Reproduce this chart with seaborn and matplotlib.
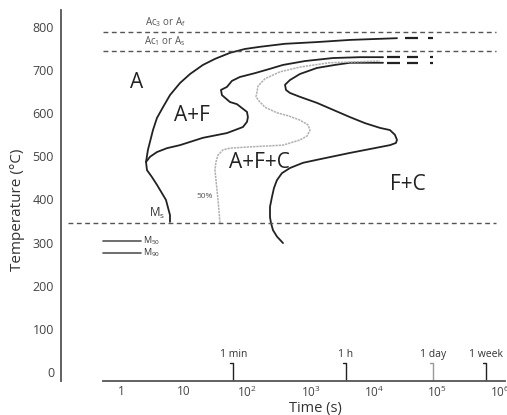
"""TTT diagram: austenite decomposition into ferrite + carbide."""

import matplotlib
matplotlib.use("Agg")
import matplotlib.pyplot as plt
import seaborn as sns

# ---- data (time in s, temperature in degC) ----
start_t = [5.96, 5.96, 5.15, 3.71, 3.09, 2.58, 2.49, 2.67, 3.21, 3.71, 4.62, 5.96, 8.58,
           12.4, 19.8, 30.7, 53, 91.6, 158, 394, 1260, 4200, 23300]
start_T = [348, 364, 399, 434, 452, 468, 487, 515, 561, 589, 614, 642, 670,
           691, 712, 726, 740, 749, 754, 761, 765, 770, 774]

ferrite_t = [2.49, 2.88, 3.71, 5.35, 8.58, 19.8, 47.5, 85, 98.6, 102, 98.6, 68.4, 53,
             39.6, 38.2, 47.5, 57, 76, 132, 228, 366, 815, 2260, 6050, 14000]
ferrite_T = [487, 499, 510, 519, 526, 543, 554, 568, 580, 591, 603, 621, 626,
             642, 654, 661, 675, 684, 693, 703, 712, 721, 728, 730, 730]

half_t = [36.9, 34.3, 30.7, 31.8, 34.3, 41.1, 53, 110, 366, 679, 877, 979, 910, 679,
          444, 294, 190, 158, 137, 142, 147, 190, 328, 679, 1970, 12530]
half_T = [346, 399, 468, 487, 503, 515, 519, 522, 526, 538, 547, 561, 573, 584,
          594, 601, 614, 626, 638, 649, 663, 680, 696, 707, 717, 721]

finish_t = [366, 294, 254, 236, 228, 228, 245, 264, 294, 352, 472, 758, 1262, 4200, 8710,
            18000, 22400, 23300, 21600, 18000, 12530, 7260, 4200, 2260, 1262, 679, 472,
            408, 394, 472, 679, 1262, 2430, 4200, 14000]
finish_T = [299, 314, 329, 346, 359, 383, 406, 427, 445, 461, 473, 485, 492, 508, 517,
            526, 531, 538, 550, 561, 566, 577, 591, 608, 624, 638, 647,
            654, 666, 677, 691, 705, 712, 717, 717]

# broken continuation of the curves beyond the measured range
ext_T = [774, 730, 717]
ext_t0 = [[31200, 72100], [16200, 33500, 77500], [16200, 33500, 77500]]
ext_t1 = [[50000, 86500], [26000, 50000, 86500], [26000, 50000, 86500]]

crit_T = [788, 744, 346]          # Ac3, Ac1, Ms
crit_x0 = [0.52, 0.52, 0.146]
crit_labels = [r"Ac$_3$ or A$_\mathrm{f}$", r"Ac$_1$ or A$_\mathrm{s}$", r"M$_\mathrm{s}$"]

mart_T = [304, 276]
mart_labels = [r"M$_{50}$", r"M$_{90}$"]

marker_t = [60, 3600, 86400, 604800]
marker_labels = ["1 min", "1 h", "1 day", "1 week"]

regions = ["A", "A+F", "A+F+C", "F+C"]
region_t = [1.79, 13.3, 153, 34800]
region_T = [672, 594, 485, 434]

yticks = list(range(0, 900, 100))
xticks = [1, 10, 100, 1e3, 1e4, 1e5, 1e6]
xtick_labels = ["1", "10", "10$^2$", "10$^3$", "10$^4$", "10$^5$", "10$^6$"]

sns.set_style("white")
plt.rcParams["font.family"] = ["Open Sans", "DejaVu Sans"]
plt.rcParams["mathtext.fontset"] = "custom"
plt.rcParams["mathtext.rm"] = "Open Sans"
plt.rcParams["mathtext.it"] = "Open Sans"

ink = "#222222"
grey = "#555555"

fig = plt.figure(figsize=(5.07, 4.15), dpi=100)
ax = fig.add_axes([61 / 507, 34 / 415, 446 / 507, 373 / 415])
ax.set_xscale("log")

for t, T in [(start_t, start_T), (ferrite_t, ferrite_T), (finish_t, finish_T)]:
    sns.lineplot(x=t, y=T, sort=False, estimator=None, color=ink, linewidth=1.3, ax=ax,
                 solid_joinstyle="round", solid_capstyle="round")
sns.lineplot(x=half_t, y=half_T, sort=False, estimator=None, color="#b0b0b0",
             linewidth=1.1, linestyle=(0, (1.5, 0.6)), ax=ax)

for T, t0s, t1s in zip(ext_T, ext_t0, ext_t1):
    for a, b in zip(t0s, t1s):
        ax.plot([a, b], [T, T], color=ink, linewidth=1.6, solid_capstyle="butt")

for T, x0 in zip(crit_T, crit_x0):
    ax.plot([x0, 8.5e5], [T, T], color=grey, linewidth=1.0, linestyle=(0, (3.5, 2.5)))
ax.text(5.0, 796, crit_labels[0], fontsize=7, color=grey, ha="center", va="bottom")
ax.text(4.9, 752, crit_labels[1], fontsize=7, color=grey, ha="center", va="bottom")
ax.text(3.7, 350, crit_labels[2], fontsize=8.5, color="#333333", ha="center", va="bottom")

for T, lab in zip(mart_T, mart_labels):
    ax.plot([0.52, 2.05], [T, T], color=grey, linewidth=1.2)
    ax.text(2.2, T, lab, fontsize=6.5, color="#333333", ha="left", va="center")

for t, lab in zip(marker_t, marker_labels):
    c = "#999999" if lab == "1 day" else ink
    ax.plot([t * 0.89, t, t], [21, 21, -21], color=c, linewidth=1.0)
    ax.text(t, 28, lab, fontsize=7.5, color="#333333", ha="center", va="bottom")

for lab, t, T in zip(regions, region_t, region_T):
    ax.text(t, T, lab, fontsize=15, color=ink, ha="center", va="center")
ax.text(21.3, 406, "50%", fontsize=6, color=grey, ha="center", va="center")

ax.set_xlim(10 ** -0.949, 10 ** 6.108)
ax.set_ylim(-20.9, 844)
ax.set_yticks(yticks)
ax.set_xticks(xticks)
ax.set_xticklabels(xtick_labels)
ax.minorticks_off()
ax.tick_params(axis="y", direction="in", length=3, width=1, color=grey,
               labelsize=9, labelcolor="#444444", pad=5)
ax.tick_params(axis="x", direction="inout", length=5, width=1, color=grey,
               labelsize=8.5, labelcolor="#444444", pad=0.5)

for side in ["top", "right"]:
    ax.spines[side].set_visible(False)
ax.spines["left"].set_bounds(-20, 840)
ax.spines["bottom"].set_bounds(0.52, 1.19e6)
for side in ["left", "bottom"]:
    ax.spines[side].set_color(grey)
    ax.spines[side].set_linewidth(1.3)

fig.text(315 / 507, 1 - 408 / 415, "Time (s)", fontsize=10.5, color="#333333",
         ha="center", va="center")
fig.text(18 / 507, 1 - 210 / 415, "Temperature (°C)", fontsize=11, color="#333333",
         ha="center", va="center", rotation=90)

fig.savefig("out.png", dpi=100)
